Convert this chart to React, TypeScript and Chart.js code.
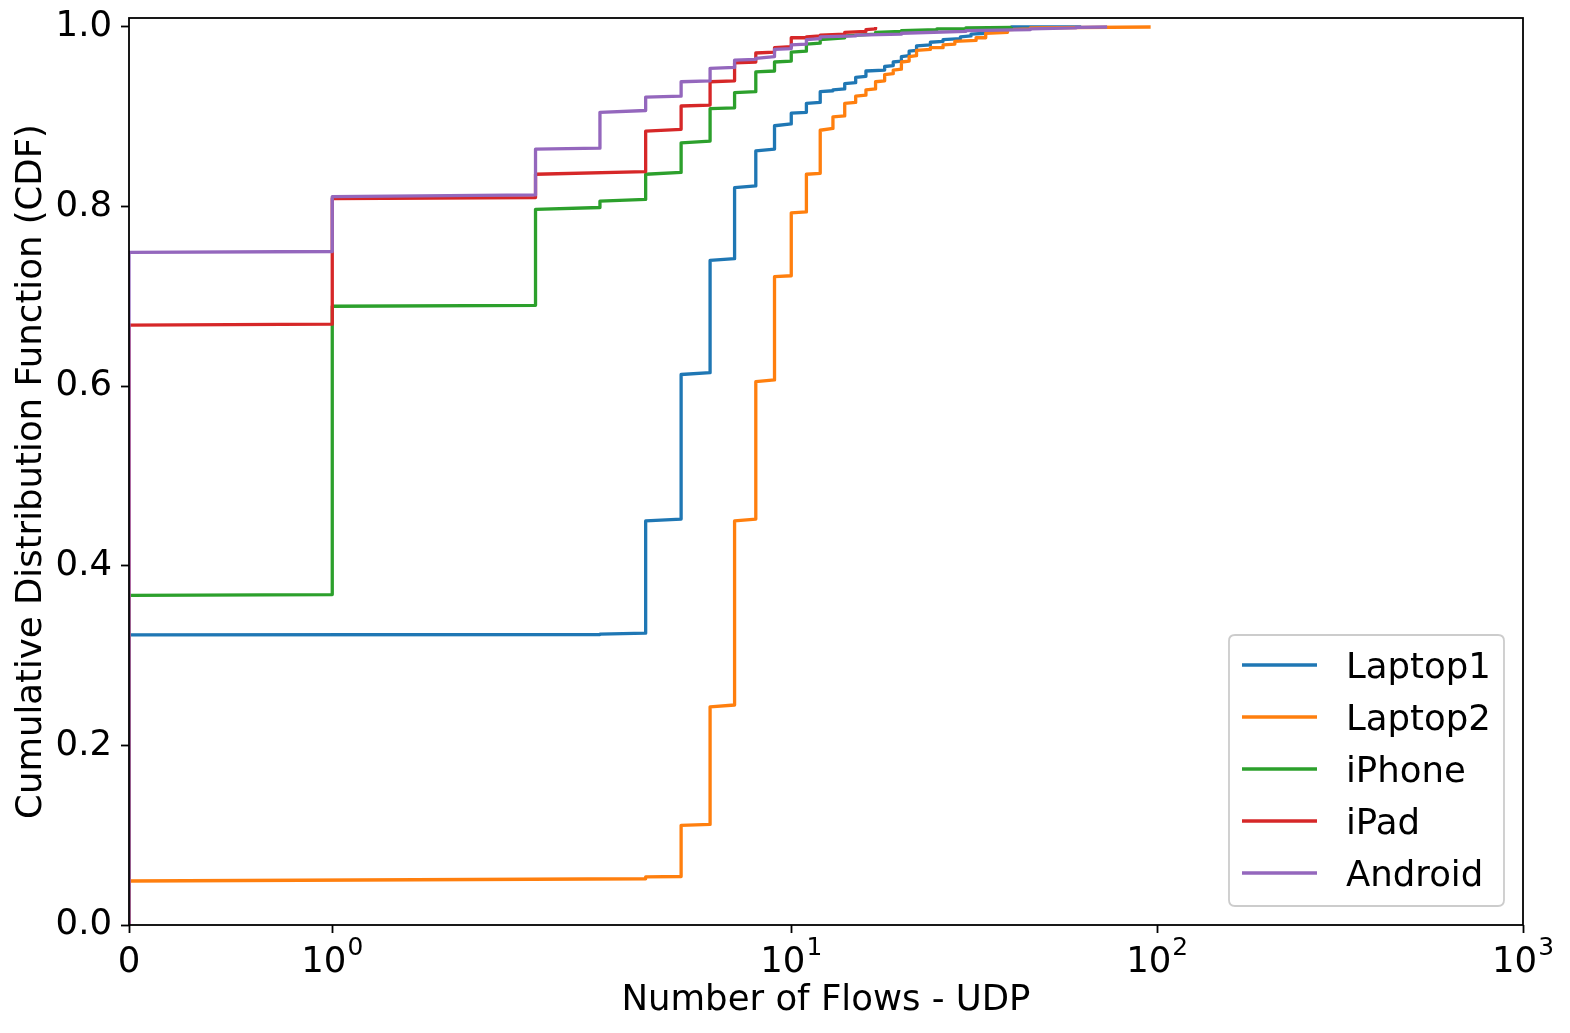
import { useEffect, useRef } from 'react';
import { Chart, LinearScale, registerables } from 'chart.js';

Chart.register(...registerables);

// ---------- data ----------
const seriesNames = ['Laptop1', 'Laptop2', 'iPhone', 'iPad', 'Android'];
const seriesColors = ['#1f77b4', '#ff7f0e', '#2ca02c', '#d62728', '#9467bd'];

const laptop1Flows = [0, 3, 4, 5, 6, 7, 8, 9, 10, 11, 12, 13, 14, 15, 16, 18, 19, 20, 21, 22, 24, 26, 29, 31, 34, 37, 40, 62];
const laptop1CdfBefore = [0, 0.3235, 0.325, 0.452, 0.615, 0.742, 0.823, 0.864, 0.892, 0.905, 0.916, 0.929, 0.931, 0.938, 0.945, 0.952, 0.957, 0.962, 0.968, 0.974, 0.98, 0.984, 0.987, 0.99, 0.993, 0.996, 0.999, 1.0];
const laptop1CdfAfter = [0.323, 0.324, 0.45, 0.613, 0.74, 0.821, 0.862, 0.89, 0.904, 0.915, 0.928, 0.93, 0.937, 0.944, 0.951, 0.956, 0.961, 0.967, 0.973, 0.979, 0.983, 0.986, 0.989, 0.992, 0.995, 0.998, 1.0, 1.0];

const laptop2Flows = [0, 4, 5, 6, 7, 8, 9, 10, 11, 12, 13, 14, 15, 16, 17, 18, 19, 20, 21, 22, 24, 26, 28, 32, 34, 39, 45, 96];
const laptop2CdfBefore = [0, 0.0515, 0.054, 0.112, 0.245, 0.452, 0.607, 0.723, 0.794, 0.837, 0.887, 0.901, 0.916, 0.924, 0.931, 0.94, 0.948, 0.953, 0.962, 0.968, 0.975, 0.977, 0.981, 0.985, 0.988, 0.994, 0.998, 1.0];
const laptop2CdfAfter = [0.049, 0.0535, 0.111, 0.243, 0.45, 0.605, 0.722, 0.793, 0.836, 0.885, 0.9, 0.915, 0.923, 0.93, 0.939, 0.947, 0.952, 0.961, 0.967, 0.974, 0.977, 0.98, 0.984, 0.988, 0.993, 0.997, 0.999, 1.0];

const iphoneFlows = [0, 1, 2, 3, 4, 5, 6, 7, 8, 9, 10, 11, 12, 14, 17, 20, 25, 30, 40];
const iphoneCdfBefore = [0, 0.368, 0.69, 0.799, 0.808, 0.838, 0.873, 0.91, 0.928, 0.951, 0.962, 0.973, 0.982, 0.988, 0.992, 0.995, 0.997, 0.998, 0.9995];
const iphoneCdfAfter = [0.367, 0.689, 0.797, 0.806, 0.836, 0.871, 0.909, 0.927, 0.95, 0.961, 0.972, 0.981, 0.986, 0.99, 0.994, 0.996, 0.998, 0.999, 1.0];

const ipadFlows = [0, 1, 2, 4, 5, 6, 7, 8, 9, 10, 11, 12, 14, 16, 17];
const ipadCdfBefore = [0, 0.669, 0.81, 0.839, 0.886, 0.913, 0.94, 0.961, 0.972, 0.978, 0.988, 0.99, 0.992, 0.995, 0.998];
const ipadCdfAfter = [0.668, 0.809, 0.836, 0.884, 0.912, 0.939, 0.96, 0.971, 0.977, 0.988, 0.989, 0.991, 0.994, 0.997, 1.0];

const androidFlows = [0, 1, 2, 3, 4, 5, 6, 7, 8, 9, 10, 11, 12, 15, 20, 30, 45, 60, 73];
const androidCdfBefore = [0, 0.75, 0.813, 0.865, 0.907, 0.923, 0.94, 0.955, 0.964, 0.967, 0.976, 0.981, 0.987, 0.99, 0.992, 0.995, 0.997, 0.999, 1.0];
const androidCdfAfter = [0.749, 0.811, 0.864, 0.905, 0.922, 0.939, 0.954, 0.963, 0.965, 0.975, 0.98, 0.986, 0.989, 0.991, 0.993, 0.996, 0.998, 0.9995, 1.0];

const xTickValues = [0, 1, 10, 100, 1000];
const xTickBases = ['0', '10', '10', '10', '10'];
const xTickExponents = ['', '0', '1', '2', '3'];
const yTickValues = [0, 0.2, 0.4, 0.6, 0.8, 1.0];

const xTitle = 'Number of Flows - UDP';
const yTitle = 'Cumulative Distribution Function (CDF)';

// ---------- symlog scale (matplotlib style, linthresh=2, linscale=1) ----------
const LINTHRESH = 2;
const LINSCALE_ADJ = 1 / (1 - 1 / 10);
function symlog(v: number): number {
  const a = Math.abs(v);
  if (a <= LINTHRESH) return v * LINSCALE_ADJ;
  return Math.sign(v) * LINTHRESH * (LINSCALE_ADJ + Math.log10(a / LINTHRESH));
}
function symexp(t: number): number {
  const a = Math.abs(t);
  const lin = LINTHRESH * LINSCALE_ADJ;
  if (a <= lin) return t / LINSCALE_ADJ;
  return Math.sign(t) * LINTHRESH * Math.pow(10, a / LINTHRESH - LINSCALE_ADJ);
}

class SymlogScale extends (LinearScale as any) {
  static id = 'symlog';
  static defaults = {};
  configure() {
    super.configure();
    this._tStart = symlog(this.min);
    this._tRange = symlog(this.max) - this._tStart || 1;
  }
  getPixelForValue(value: number) {
    return this.getPixelForDecimal((symlog(value) - this._tStart) / this._tRange);
  }
  getValueForPixel(pixel: number) {
    return symexp(this._tStart + this.getDecimalForPixel(pixel) * this._tRange);
  }
}
Chart.register(SymlogScale as any);

const FONT = 'DejaVu Sans';
const FS = 35.5;

function toSteps(xs: number[], before: number[], after: number[]) {
  const pts: { x: number; y: number }[] = [];
  for (let i = 0; i < xs.length; i++) {
    pts.push({ x: xs[i], y: before[i] });
    pts.push({ x: xs[i], y: after[i] });
  }
  return pts;
}

const overlayPlugin = {
  id: 'overlay',
  afterDraw(chart: any) {
    const { ctx, chartArea: a, scales } = chart;
    ctx.save();
    // frame (spines)
    ctx.strokeStyle = '#000';
    ctx.lineWidth = 1.8;
    ctx.strokeRect(a.left, a.top, a.right - a.left, a.bottom - a.top);

    // x tick labels with superscripts
    ctx.fillStyle = '#000';
    ctx.textBaseline = 'alphabetic';
    ctx.textAlign = 'left';
    const baseY = a.bottom + 47;
    for (let i = 0; i < xTickValues.length; i++) {
      const px = scales.x.getPixelForValue(xTickValues[i]);
      ctx.font = `${FS}px "${FONT}"`;
      const wb = ctx.measureText(xTickBases[i]).width;
      ctx.font = `${FS * 0.7}px "${FONT}"`;
      const we = xTickExponents[i] ? ctx.measureText(xTickExponents[i]).width + 1 : 0;
      const start = px - (wb + we) / 2;
      ctx.font = `${FS}px "${FONT}"`;
      ctx.fillText(xTickBases[i], start, baseY);
      if (xTickExponents[i]) {
        ctx.font = `${FS * 0.7}px "${FONT}"`;
        ctx.fillText(xTickExponents[i], start + wb + 1, baseY - 17);
      }
    }

    // legend
    const bx = 1229, by = 635, bw = 275, bh = 271, r = 6;
    ctx.beginPath();
    ctx.moveTo(bx + r, by);
    ctx.lineTo(bx + bw - r, by);
    ctx.quadraticCurveTo(bx + bw, by, bx + bw, by + r);
    ctx.lineTo(bx + bw, by + bh - r);
    ctx.quadraticCurveTo(bx + bw, by + bh, bx + bw - r, by + bh);
    ctx.lineTo(bx + r, by + bh);
    ctx.quadraticCurveTo(bx, by + bh, bx, by + bh - r);
    ctx.lineTo(bx, by + r);
    ctx.quadraticCurveTo(bx, by, bx + r, by);
    ctx.closePath();
    ctx.fillStyle = 'rgba(255,255,255,0.8)';
    ctx.fill();
    ctx.strokeStyle = '#cccccc';
    ctx.lineWidth = 1.8;
    ctx.stroke();
    chart.data.datasets.forEach((ds: any, i: number) => {
      const ly = 665 + i * 52;
      ctx.strokeStyle = ds.borderColor;
      ctx.lineWidth = 3.3;
      ctx.lineCap = 'butt';
      ctx.beginPath();
      ctx.moveTo(1242, ly);
      ctx.lineTo(1317, ly);
      ctx.stroke();
      ctx.fillStyle = '#000';
      ctx.font = `${FS}px "${FONT}"`;
      ctx.textBaseline = 'alphabetic';
      ctx.textAlign = 'left';
      ctx.fillText(ds.label, 1346, ly + 13.3);
    });
    ctx.restore();
  },
};

export default function App() {
  const canvasRef = useRef<HTMLCanvasElement>(null);
  useEffect(() => {
    document.body.style.margin = '0';
    const canvas = canvasRef.current;
    if (!canvas) return;
    const steps = [
      toSteps(laptop1Flows, laptop1CdfBefore, laptop1CdfAfter),
      toSteps(laptop2Flows, laptop2CdfBefore, laptop2CdfAfter),
      toSteps(iphoneFlows, iphoneCdfBefore, iphoneCdfAfter),
      toSteps(ipadFlows, ipadCdfBefore, ipadCdfAfter),
      toSteps(androidFlows, androidCdfBefore, androidCdfAfter),
    ];
    const chart = new Chart(canvas, {
      type: 'line',
      data: {
        datasets: seriesNames.map((name, i) => ({
          label: name,
          data: steps[i],
          borderColor: seriesColors[i],
          backgroundColor: seriesColors[i],
          borderWidth: 3.3,
          pointRadius: 0,
          tension: 0,
          fill: false,
          borderJoinStyle: 'round',
          borderCapStyle: 'butt',
          order: seriesNames.length - i,
        })),
      },
      options: {
        animation: false,
        responsive: true,
        maintainAspectRatio: false,
        events: [],
        parsing: true,
        layout: { padding: { top: 18, right: 47, left: 0, bottom: 0 } },
        plugins: { legend: { display: false }, tooltip: { enabled: false } },
        scales: {
          x: {
            type: 'symlog' as any,
            position: 'bottom',
            min: 0,
            max: 1000,
            afterBuildTicks: (scale: any) => {
              scale.ticks = xTickValues.map((v) => ({ value: v }));
            },
            afterFit: (scale: any) => {
              scale.height = 108;
              scale.paddingLeft = 0;
              scale.paddingRight = 0;
              scale.paddingTop = 0;
              scale.paddingBottom = 0;
            },
            border: { display: false },
            grid: {
              display: true,
              drawOnChartArea: false,
              drawTicks: true,
              tickLength: 8,
              tickWidth: 1.8,
              tickColor: '#000',
            },
            ticks: { display: false },
            title: {
              display: true,
              text: xTitle,
              color: '#000',
              font: { family: FONT, size: FS },
              padding: { top: 0, bottom: 11 },
            },
          },
          y: {
            type: 'linear',
            position: 'left',
            min: 0,
            max: 1.01,
            afterBuildTicks: (scale: any) => {
              scale.ticks = yTickValues.map((v) => ({ value: v }));
            },
            afterFit: (scale: any) => {
              scale.width = 129;
              scale.paddingLeft = 0;
              scale.paddingRight = 0;
              scale.paddingTop = 0;
              scale.paddingBottom = 0;
            },
            border: { display: false },
            grid: {
              display: true,
              drawOnChartArea: false,
              drawTicks: true,
              tickLength: 8,
              tickWidth: 1.8,
              tickColor: '#000',
            },
            ticks: {
              color: '#000',
              padding: 9,
              font: { family: FONT, size: FS },
              callback: (v: any) => Number(v).toFixed(1),
            },
            title: {
              display: true,
              text: yTitle,
              color: '#000',
              font: { family: FONT, size: FS },
              padding: { top: 10, bottom: 0 },
            },
          },
        },
      },
      plugins: [overlayPlugin],
    } as any);
    return () => chart.destroy();
  }, []);
  return (
    <div style={{ width: 1570, height: 1033, position: 'relative' }}>
      <canvas ref={canvasRef} />
    </div>
  );
}
